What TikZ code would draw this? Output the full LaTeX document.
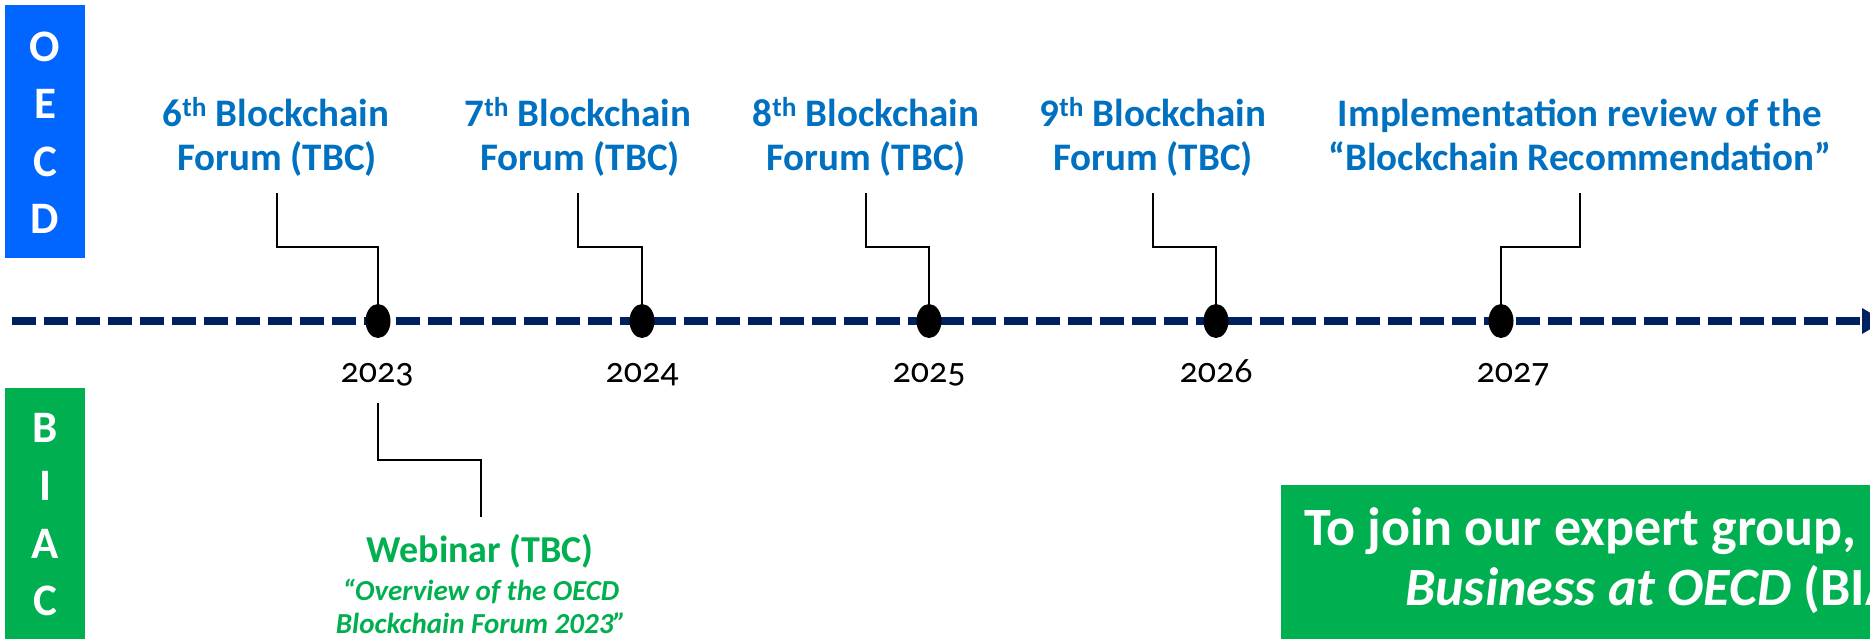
\documentclass[tikz,border=0pt]{standalone}
\usepackage{fontspec}
\setmainfont{Carlito}
\newfontfamily\yearfont[Numbers=OldStyle]{Carlito}
\usetikzlibrary{shapes.geometric}
\definecolor{oecdblue}{HTML}{0066FF}
\definecolor{tblue}{HTML}{0070C0}
\definecolor{bgreen}{HTML}{00B050}
\definecolor{navy}{HTML}{002060}
\begin{document}
\begin{tikzpicture}[x=1pt,y=-1pt,
  lbl/.style={font=\bfseries\fontsize{39}{44}\selectfont,text=tblue,inner sep=0pt,anchor=base},
  yr/.style={font=\yearfont\fontsize{36}{40}\selectfont,text=black,inner sep=0pt,anchor=base},
  boxletter/.style={font=\bfseries\fontsize{45}{50}\selectfont,text=white,inner sep=0pt,anchor=base},
  webtitle/.style={font=\bfseries\fontsize{38}{42}\selectfont,text=bgreen,inner sep=0pt,anchor=base},
  webit/.style={font=\bfseries\itshape\fontsize{29}{33}\selectfont,text=bgreen,inner sep=0pt,anchor=base},
  gtext/.style={font=\bfseries\fontsize{54}{62}\selectfont,text=white,inner sep=0pt,anchor=base west},
  dotmark/.style={ellipse,fill=black,minimum width=25pt,minimum height=34pt,inner sep=0pt},
  conn/.style={draw=black,line width=2pt},
  timeline/.style={draw=navy,line width=7.5pt,dash pattern=on 24pt off 8pt}]
\useasboundingbox (0,0) rectangle (1870,638);
\clip (0,0) rectangle (1870,638);
\fill[white] (0,0) rectangle (1870,638);

% side boxes
\fill[oecdblue] (5,5) rectangle (85,258);
\node[boxletter] (o1) at (45,61) {O};
\node[boxletter] (o2) at (45,118) {E};
\node[boxletter] (o3) at (45,176) {C};
\node[boxletter] (o4) at (45,233) {D};
\fill[bgreen] (5,388) rectangle (85,645);
\node[boxletter] (b1) at (45,442) {B};
\node[boxletter] (b2) at (45,500) {I};
\node[boxletter] (b3) at (45,558) {A};
\node[boxletter] (b4) at (45,615) {C};

% timeline
\coordinate (tlstart) at (12,321);
\coordinate (tlend) at (1862,321);
\draw[timeline] (tlstart) -- (tlend);
\fill[navy] (1862,308) -- (1862,334) -- (1884,321) -- cycle;

% dots
\node[dotmark] (d23) at (378,321) {};
\node[dotmark] (d24) at (642,321) {};
\node[dotmark] (d25) at (929,321) {};
\node[dotmark] (d26) at (1216,321) {};
\node[dotmark] (d27) at (1501,321) {};

% years
\node[yr] (y23) at (377,382) {2023};
\node[yr] (y24) at (642,382) {2024};
\node[yr] (y25) at (929,382) {2025};
\node[yr] (y26) at (1216,382) {2026};
\node[yr] (y27) at (1513,382) {2027};

% top labels
\node[lbl] (l6a) at (276,126) {6\textsuperscript{th} Blockchain};
\node[lbl] (l6b) at (277,170) {Forum (TBC)};
\node[lbl] (l7a) at (578,126) {7\textsuperscript{th} Blockchain};
\node[lbl] (l7b) at (580,170) {Forum (TBC)};
\node[lbl] (l8a) at (866,126) {8\textsuperscript{th} Blockchain};
\node[lbl] (l8b) at (866,170) {Forum (TBC)};
\node[lbl] (l9a) at (1153,126) {9\textsuperscript{th} Blockchain};
\node[lbl] (l9b) at (1153,170) {Forum (TBC)};
\node[lbl] (lia) at (1580,126) {Implementation review of the};
\node[lbl] (lib) at (1580,170) {“Blockchain Recommendation”};

% connectors from labels
\coordinate (c6) at (277,193);
\coordinate (c7) at (578,193);
\coordinate (c8) at (866,193);
\coordinate (c9) at (1153,193);
\coordinate (ci) at (1580,193);
\draw[conn] (c6) |- ([yshift=57pt]d23.north) -- (d23.north);
\draw[conn] (c7) |- ([yshift=57pt]d24.north) -- (d24.north);
\draw[conn] (c8) |- ([yshift=57pt]d25.north) -- (d25.north);
\draw[conn] (c9) |- ([yshift=57pt]d26.north) -- (d26.north);
\draw[conn] (ci) |- ([yshift=57pt]d27.north) -- (d27.north);

% webinar
\coordinate (y23b) at (378,403);
\coordinate (wtop) at (481,517);
\draw[conn] (y23b) |- ([yshift=57pt]wtop) -- (wtop);
\node[webtitle] (w1) at (480,562) {Webinar (TBC)};
\node[webit] (w2) at (481,600) {“Overview of the OECD};
\node[webit] (w3) at (481,633) {Blockchain Forum 2023”};

% green call-out
\fill[bgreen] (1281,485) rectangle (1880,650);
\node[gtext] (g1) at (1304,545) {To join our expert group,};
\node[gtext] (g2) at (1405,605) {\textit{Business at OECD} (BIA};
\end{tikzpicture}
\end{document}
